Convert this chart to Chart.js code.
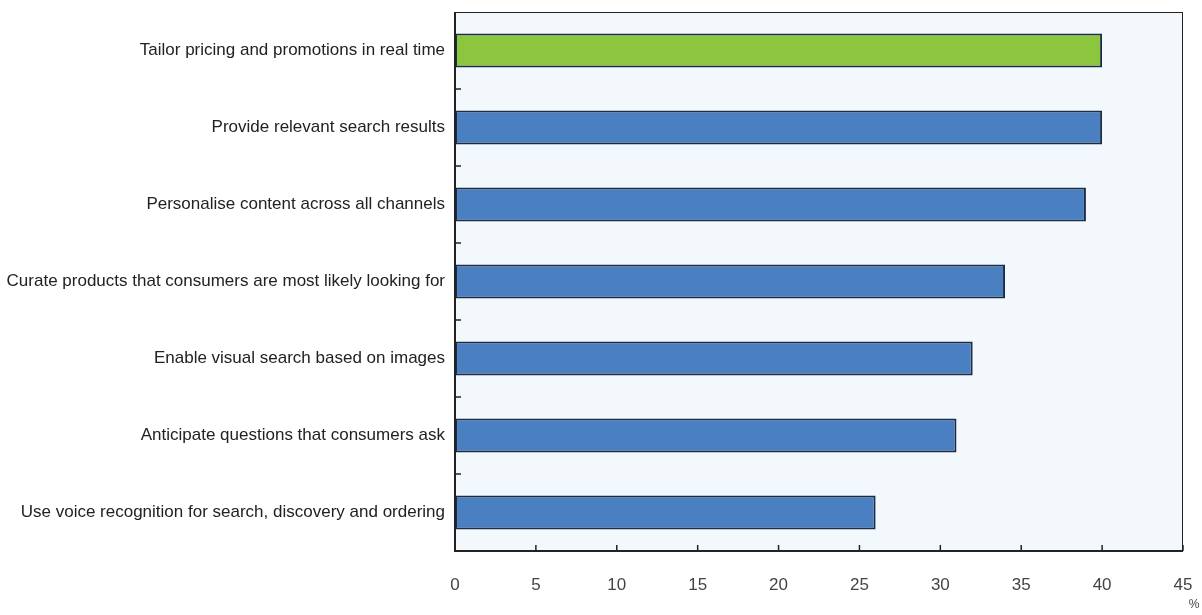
<!DOCTYPE html>
<html>
<head>
<meta charset="utf-8">
<script src="https://cdn.jsdelivr.net/npm/chart.js@4.4.1/dist/chart.umd.min.js"></script>
<style>
  html, body { margin: 0; padding: 0; background: #fff; }
  #wrap { position: relative; width: 1202px; height: 615px; }
</style>
</head>
<body>
<div id="wrap"><canvas id="chart"></canvas></div>
<script>
// ---- data ----
const categories = [
  "Tailor pricing and promotions in real time",
  "Provide relevant search results",
  "Personalise content across all channels",
  "Curate products that consumers are most likely looking for",
  "Enable visual search based on images",
  "Anticipate questions that consumers ask",
  "Use voice recognition for search, discovery and ordering"
];
const shares = [40, 40, 39, 34, 32, 31, 26];
const xTicks = [0, 5, 10, 15, 20, 25, 30, 35, 40, 45];
const highlightIndex = 0;

const FONT = "'Liberation Sans Narrow', 'Arial Narrow', 'Liberation Sans', sans-serif";

// plot background + frame + inward tick marks
const framePlugin = {
  id: "frame",
  beforeDraw(chart) {
    const { ctx, chartArea: a } = chart;
    ctx.save();
    ctx.fillStyle = "#f3f8fc";
    ctx.fillRect(a.left, a.top, a.right - a.left, a.bottom - a.top);
    ctx.restore();
  },
  afterDraw(chart) {
    const { ctx, chartArea: a, scales } = chart;
    ctx.save();
    ctx.strokeStyle = "#222";
    ctx.lineWidth = 1;
    ctx.strokeRect(a.left + 0.5, a.top + 0.5, a.right - a.left - 1, a.bottom - a.top);
    ctx.lineWidth = 2;
    ctx.beginPath();
    ctx.moveTo(a.left, a.top); ctx.lineTo(a.left, a.bottom);
    ctx.lineTo(a.right, a.bottom);
    ctx.stroke();
    // x ticks, pointing up
    ctx.lineWidth = 1.5;
    xTicks.forEach((v) => {
      const x = scales.x.getPixelForValue(v);
      ctx.beginPath(); ctx.moveTo(x, a.bottom); ctx.lineTo(x, a.bottom - 6); ctx.stroke();
    });
    // y ticks between categories
    for (let i = 0; i < categories.length - 1; i++) {
      const y = (scales.y.getPixelForValue(i) + scales.y.getPixelForValue(i + 1)) / 2;
      ctx.beginPath(); ctx.moveTo(a.left, y); ctx.lineTo(a.left + 6, y); ctx.stroke();
    }
    // unit label
    ctx.fillStyle = "#444";
    ctx.font = "12px " + FONT;
    ctx.textAlign = "center";
    ctx.fillText("%", scales.x.getPixelForValue(45) + 11, 608);
    ctx.restore();
  }
};

new Chart(document.getElementById("chart"), {
  type: "bar",
  data: {
    labels: categories,
    datasets: [{
      data: shares,
      backgroundColor: shares.map((_, i) => (i === highlightIndex ? "#8cc63f" : "#4a7fc1")),
      borderColor: "#1c2c44",
      borderWidth: 2,
      borderSkipped: false,
      barPercentage: 0.88,
      categoryPercentage: 0.5,
    }],
  },
  options: {
    indexAxis: "y",
    responsive: true,
    maintainAspectRatio: false,
    animation: false,
    layout: { padding: { top: 12, right: 19, bottom: 4, left: 0 } },
    plugins: {
      legend: { display: false },
      tooltip: { enabled: false },
    },
    scales: {
      x: {
        min: 0,
        max: 45,
        afterBuildTicks: (s) => { s.ticks = xTicks.map((v) => ({ value: v })); },
        afterFit: (s) => { s.height = 60; s.paddingLeft = 0; s.paddingRight = 0; },
        grid: { display: false, drawTicks: false },
        border: { display: false },
        ticks: {
          color: "#444",
          padding: 24,
          font: { family: FONT, size: 17 },
        },
      },
      y: {
        afterFit: (s) => { s.width = 455; s.paddingTop = 0; s.paddingBottom = 0; },
        grid: { display: false, drawTicks: false },
        border: { display: false },
        ticks: {
          color: "#222",
          padding: 10,
          font: { family: FONT, size: 17 },
        },
      },
    },
  },
  plugins: [framePlugin],
});
</script>
</body>
</html>
